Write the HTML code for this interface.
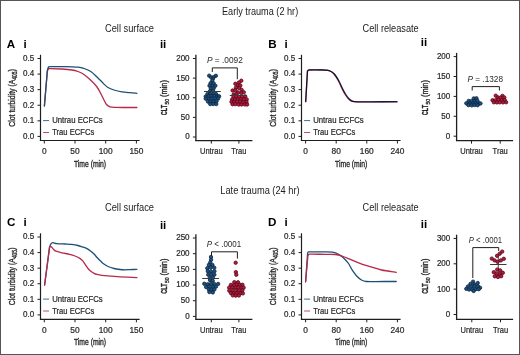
<!DOCTYPE html>
<html><head><meta charset="utf-8"><style>
html,body{margin:0;padding:0;background:#fff;width:520px;height:355px;overflow:hidden;}
svg text{font-family:"Liberation Sans", sans-serif;}
</style></head><body><div style="position:absolute;left:0;top:0;width:520px;height:355px;filter:blur(0px)">
<svg width="520" height="355" viewBox="0 0 520 355" style="position:absolute;left:0;top:0">
<rect x="0" y="0" width="520" height="355" fill="#fff"/>
<rect x="0.5" y="0.5" width="519" height="354" fill="none" stroke="#555" stroke-width="1"/>
<text x="260.10" y="15.20" font-size="10.0" text-anchor="middle" font-weight="normal" fill="#1c1c1c" textLength="76.2" lengthAdjust="spacingAndGlyphs" >Early trauma (2 hr)</text>
<text x="260.00" y="193.80" font-size="10.0" text-anchor="middle" font-weight="normal" fill="#1c1c1c" textLength="79.4" lengthAdjust="spacingAndGlyphs" >Late trauma (24 hr)</text>
<text x="129.50" y="32.40" font-size="10.0" text-anchor="middle" font-weight="normal" fill="#1c1c1c" textLength="49" lengthAdjust="spacingAndGlyphs" >Cell surface</text>
<text x="390.60" y="32.40" font-size="10.0" text-anchor="middle" font-weight="normal" fill="#1c1c1c" textLength="56.2" lengthAdjust="spacingAndGlyphs" >Cell releasate</text>
<text x="129.50" y="210.80" font-size="10.0" text-anchor="middle" font-weight="normal" fill="#1c1c1c" textLength="49" lengthAdjust="spacingAndGlyphs" >Cell surface</text>
<text x="390.60" y="210.80" font-size="10.0" text-anchor="middle" font-weight="normal" fill="#1c1c1c" textLength="56.2" lengthAdjust="spacingAndGlyphs" >Cell releasate</text>
<text x="6.80" y="47.80" font-size="11" text-anchor="start" font-weight="bold" fill="#000" textLength="8.42" lengthAdjust="spacingAndGlyphs" >A</text>
<text x="268.30" y="47.80" font-size="11" text-anchor="start" font-weight="bold" fill="#000" textLength="8.42" lengthAdjust="spacingAndGlyphs" >B</text>
<text x="6.90" y="226.00" font-size="11" text-anchor="start" font-weight="bold" fill="#000" textLength="8.42" lengthAdjust="spacingAndGlyphs" >C</text>
<text x="268.10" y="226.00" font-size="11" text-anchor="start" font-weight="bold" fill="#000" textLength="8.42" lengthAdjust="spacingAndGlyphs" >D</text>
<text x="23.50" y="47.80" font-size="11" text-anchor="start" font-weight="bold" fill="#000" textLength="3.21" lengthAdjust="spacingAndGlyphs" >i</text>
<text x="284.40" y="47.80" font-size="11" text-anchor="start" font-weight="bold" fill="#000" textLength="3.21" lengthAdjust="spacingAndGlyphs" >i</text>
<text x="23.50" y="226.00" font-size="11" text-anchor="start" font-weight="bold" fill="#000" textLength="3.21" lengthAdjust="spacingAndGlyphs" >i</text>
<text x="284.40" y="225.90" font-size="11" text-anchor="start" font-weight="bold" fill="#000" textLength="3.21" lengthAdjust="spacingAndGlyphs" >i</text>
<text x="159.90" y="47.80" font-size="11" text-anchor="start" font-weight="bold" fill="#000" textLength="6.4" lengthAdjust="spacingAndGlyphs" >ii</text>
<text x="420.80" y="45.80" font-size="11" text-anchor="start" font-weight="bold" fill="#000" textLength="6.4" lengthAdjust="spacingAndGlyphs" >ii</text>
<text x="159.90" y="228.60" font-size="11" text-anchor="start" font-weight="bold" fill="#000" textLength="6.4" lengthAdjust="spacingAndGlyphs" >ii</text>
<text x="420.80" y="227.80" font-size="11" text-anchor="start" font-weight="bold" fill="#000" textLength="6.4" lengthAdjust="spacingAndGlyphs" >ii</text>
<line x1="40.50" y1="54.80" x2="40.50" y2="141.00" stroke="#1e1e1e" stroke-width="1.2"/>
<line x1="37.50" y1="136.40" x2="40.50" y2="136.40" stroke="#1e1e1e" stroke-width="1.0"/>
<text x="34.20" y="138.80" font-size="8.2" text-anchor="end" font-weight="normal" fill="#2a2a2a" textLength="11.17" lengthAdjust="spacingAndGlyphs" stroke="#2a2a2a" stroke-width="0.22">0.0</text>
<line x1="37.50" y1="120.82" x2="40.50" y2="120.82" stroke="#1e1e1e" stroke-width="1.0"/>
<text x="34.20" y="123.22" font-size="8.2" text-anchor="end" font-weight="normal" fill="#2a2a2a" textLength="11.17" lengthAdjust="spacingAndGlyphs" stroke="#2a2a2a" stroke-width="0.22">0.1</text>
<line x1="37.50" y1="105.24" x2="40.50" y2="105.24" stroke="#1e1e1e" stroke-width="1.0"/>
<text x="34.20" y="107.64" font-size="8.2" text-anchor="end" font-weight="normal" fill="#2a2a2a" textLength="11.17" lengthAdjust="spacingAndGlyphs" stroke="#2a2a2a" stroke-width="0.22">0.2</text>
<line x1="37.50" y1="89.66" x2="40.50" y2="89.66" stroke="#1e1e1e" stroke-width="1.0"/>
<text x="34.20" y="92.06" font-size="8.2" text-anchor="end" font-weight="normal" fill="#2a2a2a" textLength="11.17" lengthAdjust="spacingAndGlyphs" stroke="#2a2a2a" stroke-width="0.22">0.3</text>
<line x1="37.50" y1="74.08" x2="40.50" y2="74.08" stroke="#1e1e1e" stroke-width="1.0"/>
<text x="34.20" y="76.48" font-size="8.2" text-anchor="end" font-weight="normal" fill="#2a2a2a" textLength="11.17" lengthAdjust="spacingAndGlyphs" stroke="#2a2a2a" stroke-width="0.22">0.4</text>
<line x1="37.50" y1="58.50" x2="40.50" y2="58.50" stroke="#1e1e1e" stroke-width="1.0"/>
<text x="34.20" y="60.90" font-size="8.2" text-anchor="end" font-weight="normal" fill="#2a2a2a" textLength="11.17" lengthAdjust="spacingAndGlyphs" stroke="#2a2a2a" stroke-width="0.22">0.5</text>
<line x1="39.90" y1="140.50" x2="139.60" y2="140.50" stroke="#1e1e1e" stroke-width="1.2"/>
<line x1="44.30" y1="140.50" x2="44.30" y2="143.50" stroke="#1e1e1e" stroke-width="1.0"/>
<text x="44.30" y="153.80" font-size="8.2" text-anchor="middle" font-weight="normal" fill="#2a2a2a" textLength="4.65" lengthAdjust="spacingAndGlyphs" stroke="#2a2a2a" stroke-width="0.22">0</text>
<line x1="75.00" y1="140.50" x2="75.00" y2="143.50" stroke="#1e1e1e" stroke-width="1.0"/>
<text x="75.00" y="153.80" font-size="8.2" text-anchor="middle" font-weight="normal" fill="#2a2a2a" textLength="9.3" lengthAdjust="spacingAndGlyphs" stroke="#2a2a2a" stroke-width="0.22">50</text>
<line x1="105.70" y1="140.50" x2="105.70" y2="143.50" stroke="#1e1e1e" stroke-width="1.0"/>
<text x="105.70" y="153.80" font-size="8.2" text-anchor="middle" font-weight="normal" fill="#2a2a2a" textLength="13.96" lengthAdjust="spacingAndGlyphs" stroke="#2a2a2a" stroke-width="0.22">100</text>
<line x1="136.40" y1="140.50" x2="136.40" y2="143.50" stroke="#1e1e1e" stroke-width="1.0"/>
<text x="136.40" y="153.80" font-size="8.2" text-anchor="middle" font-weight="normal" fill="#2a2a2a" textLength="13.96" lengthAdjust="spacingAndGlyphs" stroke="#2a2a2a" stroke-width="0.22">150</text>
<text x="90.05" y="167.00" font-size="9.0" text-anchor="middle" font-weight="normal" fill="#2a2a2a" textLength="32.2" lengthAdjust="spacingAndGlyphs" stroke="#2a2a2a" stroke-width="0.35">Time (min)</text>
<g transform="translate(15.20,97.40) rotate(-90)">
<text x="-29.30" y="0.00" font-size="9.8" font-weight="normal" fill="#2a2a2a" stroke="#2a2a2a" stroke-width="0.35" textLength="47.0" lengthAdjust="spacingAndGlyphs">Clot turbidity (A</text>
<text x="17.80" y="1.90" font-size="6.4" font-weight="normal" fill="#2a2a2a" stroke="#2a2a2a" stroke-width="0.35" textLength="8.0" lengthAdjust="spacingAndGlyphs">405</text>
<text x="25.90" y="0.00" font-size="9.8" font-weight="normal" fill="#2a2a2a" stroke="#2a2a2a" stroke-width="0.35" textLength="2.6" lengthAdjust="spacingAndGlyphs">)</text>
</g>
<line x1="43.10" y1="120.60" x2="49.10" y2="120.60" stroke="#2a5c85" stroke-width="0.9"/>
<text x="52.20" y="123.40" font-size="8.2" text-anchor="start" font-weight="normal" fill="#2a2a2a" textLength="50.5" lengthAdjust="spacingAndGlyphs" stroke="#2a2a2a" stroke-width="0.22">Untrau ECFCs</text>
<line x1="43.10" y1="132.50" x2="49.10" y2="132.50" stroke="#b8385a" stroke-width="0.9"/>
<text x="52.20" y="135.40" font-size="8.2" text-anchor="start" font-weight="normal" fill="#2a2a2a" textLength="42" lengthAdjust="spacingAndGlyphs" stroke="#2a2a2a" stroke-width="0.22">Trau ECFCs</text>
<path d="M44.40,106.00 L47.30,71.50 C47.47,71.08 47.85,69.48 48.30,69.00 C48.75,68.52 47.72,68.60 50.00,68.60 C52.28,68.60 58.33,68.77 62.00,69.00 C65.67,69.23 69.33,69.58 72.00,70.00 C74.67,70.42 76.25,70.92 78.00,71.50 C79.75,72.08 81.08,72.67 82.50,73.50 C83.92,74.33 84.92,75.17 86.50,76.50 C88.08,77.83 90.25,79.75 92.00,81.50 C93.75,83.25 95.50,84.92 97.00,87.00 C98.50,89.08 99.83,91.83 101.00,94.00 C102.17,96.17 103.08,98.25 104.00,100.00 C104.92,101.75 105.50,103.37 106.50,104.50 C107.50,105.63 108.42,106.32 110.00,106.80 C111.58,107.28 113.33,107.28 116.00,107.40 C118.67,107.52 122.52,107.48 126.00,107.50 C129.48,107.52 135.08,107.50 136.90,107.50" fill="none" stroke="#b8284a" stroke-width="1.3" stroke-linejoin="round" stroke-linecap="round"/>
<path d="M44.40,105.80 L47.40,70.20 C47.57,69.75 47.93,68.08 48.40,67.50 C48.87,66.92 47.43,66.85 50.20,66.70 C52.97,66.55 60.37,66.52 65.00,66.60 C69.63,66.68 74.83,66.88 78.00,67.20 C81.17,67.52 81.87,67.78 84.00,68.50 C86.13,69.22 88.63,70.08 90.80,71.50 C92.97,72.92 94.88,74.98 97.00,77.00 C99.12,79.02 101.67,81.85 103.50,83.60 C105.33,85.35 106.25,86.43 108.00,87.50 C109.75,88.57 111.67,89.28 114.00,90.00 C116.33,90.72 119.33,91.35 122.00,91.80 C124.67,92.25 127.52,92.45 130.00,92.70 C132.48,92.95 135.75,93.20 136.90,93.30" fill="none" stroke="#1b4f75" stroke-width="1.3" stroke-linejoin="round" stroke-linecap="round"/>
<line x1="301.50" y1="54.80" x2="301.50" y2="141.00" stroke="#1e1e1e" stroke-width="1.2"/>
<line x1="298.50" y1="136.40" x2="301.50" y2="136.40" stroke="#1e1e1e" stroke-width="1.0"/>
<text x="295.20" y="138.80" font-size="8.2" text-anchor="end" font-weight="normal" fill="#2a2a2a" textLength="11.17" lengthAdjust="spacingAndGlyphs" stroke="#2a2a2a" stroke-width="0.22">0.0</text>
<line x1="298.50" y1="120.82" x2="301.50" y2="120.82" stroke="#1e1e1e" stroke-width="1.0"/>
<text x="295.20" y="123.22" font-size="8.2" text-anchor="end" font-weight="normal" fill="#2a2a2a" textLength="11.17" lengthAdjust="spacingAndGlyphs" stroke="#2a2a2a" stroke-width="0.22">0.1</text>
<line x1="298.50" y1="105.24" x2="301.50" y2="105.24" stroke="#1e1e1e" stroke-width="1.0"/>
<text x="295.20" y="107.64" font-size="8.2" text-anchor="end" font-weight="normal" fill="#2a2a2a" textLength="11.17" lengthAdjust="spacingAndGlyphs" stroke="#2a2a2a" stroke-width="0.22">0.2</text>
<line x1="298.50" y1="89.66" x2="301.50" y2="89.66" stroke="#1e1e1e" stroke-width="1.0"/>
<text x="295.20" y="92.06" font-size="8.2" text-anchor="end" font-weight="normal" fill="#2a2a2a" textLength="11.17" lengthAdjust="spacingAndGlyphs" stroke="#2a2a2a" stroke-width="0.22">0.3</text>
<line x1="298.50" y1="74.08" x2="301.50" y2="74.08" stroke="#1e1e1e" stroke-width="1.0"/>
<text x="295.20" y="76.48" font-size="8.2" text-anchor="end" font-weight="normal" fill="#2a2a2a" textLength="11.17" lengthAdjust="spacingAndGlyphs" stroke="#2a2a2a" stroke-width="0.22">0.4</text>
<line x1="298.50" y1="58.50" x2="301.50" y2="58.50" stroke="#1e1e1e" stroke-width="1.0"/>
<text x="295.20" y="60.90" font-size="8.2" text-anchor="end" font-weight="normal" fill="#2a2a2a" textLength="11.17" lengthAdjust="spacingAndGlyphs" stroke="#2a2a2a" stroke-width="0.22">0.5</text>
<line x1="300.90" y1="140.50" x2="400.60" y2="140.50" stroke="#1e1e1e" stroke-width="1.2"/>
<line x1="305.60" y1="140.50" x2="305.60" y2="143.50" stroke="#1e1e1e" stroke-width="1.0"/>
<text x="305.60" y="153.80" font-size="8.2" text-anchor="middle" font-weight="normal" fill="#2a2a2a" textLength="4.65" lengthAdjust="spacingAndGlyphs" stroke="#2a2a2a" stroke-width="0.22">0</text>
<line x1="336.20" y1="140.50" x2="336.20" y2="143.50" stroke="#1e1e1e" stroke-width="1.0"/>
<text x="336.20" y="153.80" font-size="8.2" text-anchor="middle" font-weight="normal" fill="#2a2a2a" textLength="9.3" lengthAdjust="spacingAndGlyphs" stroke="#2a2a2a" stroke-width="0.22">80</text>
<line x1="366.80" y1="140.50" x2="366.80" y2="143.50" stroke="#1e1e1e" stroke-width="1.0"/>
<text x="366.80" y="153.80" font-size="8.2" text-anchor="middle" font-weight="normal" fill="#2a2a2a" textLength="13.96" lengthAdjust="spacingAndGlyphs" stroke="#2a2a2a" stroke-width="0.22">160</text>
<line x1="397.40" y1="140.50" x2="397.40" y2="143.50" stroke="#1e1e1e" stroke-width="1.0"/>
<text x="397.40" y="153.80" font-size="8.2" text-anchor="middle" font-weight="normal" fill="#2a2a2a" textLength="13.96" lengthAdjust="spacingAndGlyphs" stroke="#2a2a2a" stroke-width="0.22">240</text>
<text x="351.20" y="167.00" font-size="9.0" text-anchor="middle" font-weight="normal" fill="#2a2a2a" textLength="32.2" lengthAdjust="spacingAndGlyphs" stroke="#2a2a2a" stroke-width="0.35">Time (min)</text>
<g transform="translate(276.20,97.40) rotate(-90)">
<text x="-29.30" y="0.00" font-size="9.8" font-weight="normal" fill="#2a2a2a" stroke="#2a2a2a" stroke-width="0.35" textLength="47.0" lengthAdjust="spacingAndGlyphs">Clot turbidity (A</text>
<text x="17.80" y="1.90" font-size="6.4" font-weight="normal" fill="#2a2a2a" stroke="#2a2a2a" stroke-width="0.35" textLength="8.0" lengthAdjust="spacingAndGlyphs">405</text>
<text x="25.90" y="0.00" font-size="9.8" font-weight="normal" fill="#2a2a2a" stroke="#2a2a2a" stroke-width="0.35" textLength="2.6" lengthAdjust="spacingAndGlyphs">)</text>
</g>
<line x1="304.10" y1="120.60" x2="310.10" y2="120.60" stroke="#2a5c85" stroke-width="0.9"/>
<text x="313.20" y="123.40" font-size="8.2" text-anchor="start" font-weight="normal" fill="#2a2a2a" textLength="50.5" lengthAdjust="spacingAndGlyphs" stroke="#2a2a2a" stroke-width="0.22">Untrau ECFCs</text>
<line x1="304.10" y1="132.50" x2="310.10" y2="132.50" stroke="#b8385a" stroke-width="0.9"/>
<text x="313.20" y="135.40" font-size="8.2" text-anchor="start" font-weight="normal" fill="#2a2a2a" textLength="42" lengthAdjust="spacingAndGlyphs" stroke="#2a2a2a" stroke-width="0.22">Trau ECFCs</text>
<path d="M305.70,101.60 L307.50,71.40 C307.65,71.20 307.98,70.43 308.40,70.20 C308.82,69.97 308.07,70.03 310.00,70.00 C311.93,69.97 317.00,69.95 320.00,70.00 C323.00,70.05 326.00,69.97 328.00,70.30 C330.00,70.63 330.75,71.13 332.00,72.00 C333.25,72.87 334.25,73.83 335.50,75.50 C336.75,77.17 338.25,79.67 339.50,82.00 C340.75,84.33 341.83,87.25 343.00,89.50 C344.17,91.75 345.33,93.83 346.50,95.50 C347.67,97.17 348.92,98.53 350.00,99.50 C351.08,100.47 351.83,100.92 353.00,101.30 C354.17,101.68 354.17,101.72 357.00,101.80 C359.83,101.88 363.33,101.82 370.00,101.80 C376.67,101.78 392.50,101.72 397.00,101.70" fill="none" stroke="#1b4f75" stroke-width="1.3" stroke-linejoin="round" stroke-linecap="round" style="mix-blend-mode:multiply"/>
<path d="M305.70,101.60 L307.40,71.20 C307.53,71.00 307.77,70.23 308.20,70.00 C308.63,69.77 308.03,69.82 310.00,69.80 C311.97,69.78 317.17,69.83 320.00,69.90 C322.83,69.97 325.17,69.93 327.00,70.20 C328.83,70.47 329.75,70.78 331.00,71.50 C332.25,72.22 333.25,72.92 334.50,74.50 C335.75,76.08 337.25,78.67 338.50,81.00 C339.75,83.33 340.83,86.17 342.00,88.50 C343.17,90.83 344.33,93.17 345.50,95.00 C346.67,96.83 347.92,98.43 349.00,99.50 C350.08,100.57 350.67,101.00 352.00,101.40 C353.33,101.80 354.00,101.82 357.00,101.90 C360.00,101.98 363.33,101.92 370.00,101.90 C376.67,101.88 392.50,101.82 397.00,101.80" fill="none" stroke="#b8284a" stroke-width="1.3" stroke-linejoin="round" stroke-linecap="round" style="mix-blend-mode:multiply"/>
<line x1="40.50" y1="233.30" x2="40.50" y2="319.80" stroke="#1e1e1e" stroke-width="1.2"/>
<line x1="37.50" y1="314.90" x2="40.50" y2="314.90" stroke="#1e1e1e" stroke-width="1.0"/>
<text x="34.20" y="317.30" font-size="8.2" text-anchor="end" font-weight="normal" fill="#2a2a2a" textLength="11.17" lengthAdjust="spacingAndGlyphs" stroke="#2a2a2a" stroke-width="0.22">0.0</text>
<line x1="37.50" y1="299.32" x2="40.50" y2="299.32" stroke="#1e1e1e" stroke-width="1.0"/>
<text x="34.20" y="301.72" font-size="8.2" text-anchor="end" font-weight="normal" fill="#2a2a2a" textLength="11.17" lengthAdjust="spacingAndGlyphs" stroke="#2a2a2a" stroke-width="0.22">0.1</text>
<line x1="37.50" y1="283.74" x2="40.50" y2="283.74" stroke="#1e1e1e" stroke-width="1.0"/>
<text x="34.20" y="286.14" font-size="8.2" text-anchor="end" font-weight="normal" fill="#2a2a2a" textLength="11.17" lengthAdjust="spacingAndGlyphs" stroke="#2a2a2a" stroke-width="0.22">0.2</text>
<line x1="37.50" y1="268.16" x2="40.50" y2="268.16" stroke="#1e1e1e" stroke-width="1.0"/>
<text x="34.20" y="270.56" font-size="8.2" text-anchor="end" font-weight="normal" fill="#2a2a2a" textLength="11.17" lengthAdjust="spacingAndGlyphs" stroke="#2a2a2a" stroke-width="0.22">0.3</text>
<line x1="37.50" y1="252.58" x2="40.50" y2="252.58" stroke="#1e1e1e" stroke-width="1.0"/>
<text x="34.20" y="254.98" font-size="8.2" text-anchor="end" font-weight="normal" fill="#2a2a2a" textLength="11.17" lengthAdjust="spacingAndGlyphs" stroke="#2a2a2a" stroke-width="0.22">0.4</text>
<line x1="37.50" y1="237.00" x2="40.50" y2="237.00" stroke="#1e1e1e" stroke-width="1.0"/>
<text x="34.20" y="239.40" font-size="8.2" text-anchor="end" font-weight="normal" fill="#2a2a2a" textLength="11.17" lengthAdjust="spacingAndGlyphs" stroke="#2a2a2a" stroke-width="0.22">0.5</text>
<line x1="39.90" y1="319.30" x2="139.60" y2="319.30" stroke="#1e1e1e" stroke-width="1.2"/>
<line x1="44.30" y1="319.30" x2="44.30" y2="322.30" stroke="#1e1e1e" stroke-width="1.0"/>
<text x="44.30" y="332.60" font-size="8.2" text-anchor="middle" font-weight="normal" fill="#2a2a2a" textLength="4.65" lengthAdjust="spacingAndGlyphs" stroke="#2a2a2a" stroke-width="0.22">0</text>
<line x1="75.00" y1="319.30" x2="75.00" y2="322.30" stroke="#1e1e1e" stroke-width="1.0"/>
<text x="75.00" y="332.60" font-size="8.2" text-anchor="middle" font-weight="normal" fill="#2a2a2a" textLength="9.3" lengthAdjust="spacingAndGlyphs" stroke="#2a2a2a" stroke-width="0.22">50</text>
<line x1="105.70" y1="319.30" x2="105.70" y2="322.30" stroke="#1e1e1e" stroke-width="1.0"/>
<text x="105.70" y="332.60" font-size="8.2" text-anchor="middle" font-weight="normal" fill="#2a2a2a" textLength="13.96" lengthAdjust="spacingAndGlyphs" stroke="#2a2a2a" stroke-width="0.22">100</text>
<line x1="136.40" y1="319.30" x2="136.40" y2="322.30" stroke="#1e1e1e" stroke-width="1.0"/>
<text x="136.40" y="332.60" font-size="8.2" text-anchor="middle" font-weight="normal" fill="#2a2a2a" textLength="13.96" lengthAdjust="spacingAndGlyphs" stroke="#2a2a2a" stroke-width="0.22">150</text>
<text x="90.05" y="345.00" font-size="9.0" text-anchor="middle" font-weight="normal" fill="#2a2a2a" textLength="32.2" lengthAdjust="spacingAndGlyphs" stroke="#2a2a2a" stroke-width="0.35">Time (min)</text>
<g transform="translate(15.20,275.90) rotate(-90)">
<text x="-29.30" y="0.00" font-size="9.8" font-weight="normal" fill="#2a2a2a" stroke="#2a2a2a" stroke-width="0.35" textLength="47.0" lengthAdjust="spacingAndGlyphs">Clot turbidity (A</text>
<text x="17.80" y="1.90" font-size="6.4" font-weight="normal" fill="#2a2a2a" stroke="#2a2a2a" stroke-width="0.35" textLength="8.0" lengthAdjust="spacingAndGlyphs">405</text>
<text x="25.90" y="0.00" font-size="9.8" font-weight="normal" fill="#2a2a2a" stroke="#2a2a2a" stroke-width="0.35" textLength="2.6" lengthAdjust="spacingAndGlyphs">)</text>
</g>
<line x1="43.10" y1="299.10" x2="49.10" y2="299.10" stroke="#2a5c85" stroke-width="0.9"/>
<text x="52.20" y="301.90" font-size="8.2" text-anchor="start" font-weight="normal" fill="#2a2a2a" textLength="50.5" lengthAdjust="spacingAndGlyphs" stroke="#2a2a2a" stroke-width="0.22">Untrau ECFCs</text>
<line x1="43.10" y1="311.00" x2="49.10" y2="311.00" stroke="#b8385a" stroke-width="0.9"/>
<text x="52.20" y="313.90" font-size="8.2" text-anchor="start" font-weight="normal" fill="#2a2a2a" textLength="42" lengthAdjust="spacingAndGlyphs" stroke="#2a2a2a" stroke-width="0.22">Trau ECFCs</text>
<path d="M44.60,285.00 L49.50,247.20 C49.72,246.70 50.27,244.95 50.80,244.20 C51.33,243.45 51.68,242.80 52.70,242.70 C53.72,242.60 54.85,243.38 56.90,243.60 C58.95,243.82 62.53,243.87 65.00,244.00 C67.47,244.13 69.53,244.15 71.70,244.40 C73.87,244.65 76.23,245.08 78.00,245.50 C79.77,245.92 80.80,246.37 82.30,246.90 C83.80,247.43 85.58,247.98 87.00,248.70 C88.42,249.42 89.63,250.32 90.80,251.20 C91.97,252.08 92.95,252.95 94.00,254.00 C95.05,255.05 96.02,256.33 97.10,257.50 C98.18,258.67 99.43,259.95 100.50,261.00 C101.57,262.05 102.25,262.88 103.50,263.80 C104.75,264.72 106.25,265.72 108.00,266.50 C109.75,267.28 112.00,268.00 114.00,268.50 C116.00,269.00 118.23,269.28 120.00,269.50 C121.77,269.72 122.93,269.78 124.60,269.80 C126.27,269.82 127.95,269.68 130.00,269.60 C132.05,269.52 135.75,269.35 136.90,269.30" fill="none" stroke="#1b4f75" stroke-width="1.3" stroke-linejoin="round" stroke-linecap="round"/>
<path d="M44.60,285.00 L49.60,247.40 C49.73,247.22 50.03,246.33 50.40,246.30 C50.77,246.27 51.28,246.70 51.80,247.20 C52.32,247.70 52.82,248.63 53.50,249.30 C54.18,249.97 54.48,250.62 55.90,251.20 C57.32,251.78 59.72,252.28 62.00,252.80 C64.28,253.32 67.43,253.77 69.60,254.30 C71.77,254.83 73.23,255.28 75.00,256.00 C76.77,256.72 78.87,257.73 80.20,258.60 C81.53,259.47 82.12,260.15 83.00,261.20 C83.88,262.25 84.67,263.68 85.50,264.90 C86.33,266.12 87.12,267.43 88.00,268.50 C88.88,269.57 89.80,270.50 90.80,271.30 C91.80,272.10 92.95,272.78 94.00,273.30 C95.05,273.82 95.77,274.07 97.10,274.40 C98.43,274.73 100.23,275.05 102.00,275.30 C103.77,275.55 104.70,275.65 107.70,275.90 C110.70,276.15 115.13,276.52 120.00,276.80 C124.87,277.08 134.08,277.47 136.90,277.60" fill="none" stroke="#b8284a" stroke-width="1.3" stroke-linejoin="round" stroke-linecap="round"/>
<line x1="301.50" y1="233.30" x2="301.50" y2="319.80" stroke="#1e1e1e" stroke-width="1.2"/>
<line x1="298.50" y1="314.90" x2="301.50" y2="314.90" stroke="#1e1e1e" stroke-width="1.0"/>
<text x="295.20" y="317.30" font-size="8.2" text-anchor="end" font-weight="normal" fill="#2a2a2a" textLength="11.17" lengthAdjust="spacingAndGlyphs" stroke="#2a2a2a" stroke-width="0.22">0.0</text>
<line x1="298.50" y1="299.32" x2="301.50" y2="299.32" stroke="#1e1e1e" stroke-width="1.0"/>
<text x="295.20" y="301.72" font-size="8.2" text-anchor="end" font-weight="normal" fill="#2a2a2a" textLength="11.17" lengthAdjust="spacingAndGlyphs" stroke="#2a2a2a" stroke-width="0.22">0.1</text>
<line x1="298.50" y1="283.74" x2="301.50" y2="283.74" stroke="#1e1e1e" stroke-width="1.0"/>
<text x="295.20" y="286.14" font-size="8.2" text-anchor="end" font-weight="normal" fill="#2a2a2a" textLength="11.17" lengthAdjust="spacingAndGlyphs" stroke="#2a2a2a" stroke-width="0.22">0.2</text>
<line x1="298.50" y1="268.16" x2="301.50" y2="268.16" stroke="#1e1e1e" stroke-width="1.0"/>
<text x="295.20" y="270.56" font-size="8.2" text-anchor="end" font-weight="normal" fill="#2a2a2a" textLength="11.17" lengthAdjust="spacingAndGlyphs" stroke="#2a2a2a" stroke-width="0.22">0.3</text>
<line x1="298.50" y1="252.58" x2="301.50" y2="252.58" stroke="#1e1e1e" stroke-width="1.0"/>
<text x="295.20" y="254.98" font-size="8.2" text-anchor="end" font-weight="normal" fill="#2a2a2a" textLength="11.17" lengthAdjust="spacingAndGlyphs" stroke="#2a2a2a" stroke-width="0.22">0.4</text>
<line x1="298.50" y1="237.00" x2="301.50" y2="237.00" stroke="#1e1e1e" stroke-width="1.0"/>
<text x="295.20" y="239.40" font-size="8.2" text-anchor="end" font-weight="normal" fill="#2a2a2a" textLength="11.17" lengthAdjust="spacingAndGlyphs" stroke="#2a2a2a" stroke-width="0.22">0.5</text>
<line x1="300.90" y1="319.30" x2="400.60" y2="319.30" stroke="#1e1e1e" stroke-width="1.2"/>
<line x1="305.60" y1="319.30" x2="305.60" y2="322.30" stroke="#1e1e1e" stroke-width="1.0"/>
<text x="305.60" y="332.60" font-size="8.2" text-anchor="middle" font-weight="normal" fill="#2a2a2a" textLength="4.65" lengthAdjust="spacingAndGlyphs" stroke="#2a2a2a" stroke-width="0.22">0</text>
<line x1="336.20" y1="319.30" x2="336.20" y2="322.30" stroke="#1e1e1e" stroke-width="1.0"/>
<text x="336.20" y="332.60" font-size="8.2" text-anchor="middle" font-weight="normal" fill="#2a2a2a" textLength="9.3" lengthAdjust="spacingAndGlyphs" stroke="#2a2a2a" stroke-width="0.22">80</text>
<line x1="366.80" y1="319.30" x2="366.80" y2="322.30" stroke="#1e1e1e" stroke-width="1.0"/>
<text x="366.80" y="332.60" font-size="8.2" text-anchor="middle" font-weight="normal" fill="#2a2a2a" textLength="13.96" lengthAdjust="spacingAndGlyphs" stroke="#2a2a2a" stroke-width="0.22">160</text>
<line x1="397.40" y1="319.30" x2="397.40" y2="322.30" stroke="#1e1e1e" stroke-width="1.0"/>
<text x="397.40" y="332.60" font-size="8.2" text-anchor="middle" font-weight="normal" fill="#2a2a2a" textLength="13.96" lengthAdjust="spacingAndGlyphs" stroke="#2a2a2a" stroke-width="0.22">240</text>
<text x="351.20" y="345.00" font-size="9.0" text-anchor="middle" font-weight="normal" fill="#2a2a2a" textLength="32.2" lengthAdjust="spacingAndGlyphs" stroke="#2a2a2a" stroke-width="0.35">Time (min)</text>
<g transform="translate(276.20,275.90) rotate(-90)">
<text x="-29.30" y="0.00" font-size="9.8" font-weight="normal" fill="#2a2a2a" stroke="#2a2a2a" stroke-width="0.35" textLength="47.0" lengthAdjust="spacingAndGlyphs">Clot turbidity (A</text>
<text x="17.80" y="1.90" font-size="6.4" font-weight="normal" fill="#2a2a2a" stroke="#2a2a2a" stroke-width="0.35" textLength="8.0" lengthAdjust="spacingAndGlyphs">405</text>
<text x="25.90" y="0.00" font-size="9.8" font-weight="normal" fill="#2a2a2a" stroke="#2a2a2a" stroke-width="0.35" textLength="2.6" lengthAdjust="spacingAndGlyphs">)</text>
</g>
<line x1="304.10" y1="299.10" x2="310.10" y2="299.10" stroke="#2a5c85" stroke-width="0.9"/>
<text x="313.20" y="301.90" font-size="8.2" text-anchor="start" font-weight="normal" fill="#2a2a2a" textLength="50.5" lengthAdjust="spacingAndGlyphs" stroke="#2a2a2a" stroke-width="0.22">Untrau ECFCs</text>
<line x1="304.10" y1="311.00" x2="310.10" y2="311.00" stroke="#b8385a" stroke-width="0.9"/>
<text x="313.20" y="313.90" font-size="8.2" text-anchor="start" font-weight="normal" fill="#2a2a2a" textLength="42" lengthAdjust="spacingAndGlyphs" stroke="#2a2a2a" stroke-width="0.22">Trau ECFCs</text>
<path d="M305.60,281.80 L307.60,253.20 C307.75,252.98 307.77,252.13 308.50,251.90 C309.23,251.67 310.08,251.82 312.00,251.80 C313.92,251.78 317.52,251.80 320.00,251.80 C322.48,251.80 324.85,251.75 326.90,251.80 C328.95,251.85 330.87,251.92 332.30,252.10 C333.73,252.28 334.47,252.55 335.50,252.90 C336.53,253.25 337.45,253.60 338.50,254.20 C339.55,254.80 340.78,255.70 341.80,256.50 C342.82,257.30 343.48,257.83 344.60,259.00 C345.72,260.17 347.22,261.63 348.50,263.50 C349.78,265.37 350.90,268.07 352.30,270.20 C353.70,272.33 355.37,274.67 356.90,276.30 C358.43,277.93 359.95,279.13 361.50,280.00 C363.05,280.87 363.95,281.23 366.20,281.50 C368.45,281.77 371.87,281.60 375.00,281.60 C378.13,281.60 381.47,281.52 385.00,281.50 C388.53,281.48 394.33,281.50 396.20,281.50" fill="none" stroke="#1b4f75" stroke-width="1.3" stroke-linejoin="round" stroke-linecap="round"/>
<path d="M305.60,281.80 L307.90,256.00 C308.07,255.72 308.22,254.60 308.90,254.30 C309.58,254.00 309.32,254.20 312.00,254.20 C314.68,254.20 321.10,254.25 325.00,254.30 C328.90,254.35 332.38,254.13 335.40,254.50 C338.42,254.87 340.53,255.65 343.10,256.50 C345.67,257.35 347.98,258.45 350.80,259.60 C353.62,260.75 356.67,262.18 360.00,263.40 C363.33,264.62 367.22,265.80 370.80,266.90 C374.38,268.00 377.27,269.08 381.50,270.00 C385.73,270.92 393.75,272.00 396.20,272.40" fill="none" stroke="#b8284a" stroke-width="1.3" stroke-linejoin="round" stroke-linecap="round"/>
<line x1="195.90" y1="54.80" x2="195.90" y2="141.10" stroke="#1e1e1e" stroke-width="1.3"/>
<line x1="192.90" y1="137.00" x2="195.90" y2="137.00" stroke="#1e1e1e" stroke-width="1.0"/>
<text x="189.60" y="139.40" font-size="8.2" text-anchor="end" font-weight="normal" fill="#2a2a2a" textLength="4.47" lengthAdjust="spacingAndGlyphs" stroke="#2a2a2a" stroke-width="0.22">0</text>
<line x1="192.90" y1="117.38" x2="195.90" y2="117.38" stroke="#1e1e1e" stroke-width="1.0"/>
<text x="189.60" y="119.78" font-size="8.2" text-anchor="end" font-weight="normal" fill="#2a2a2a" textLength="8.94" lengthAdjust="spacingAndGlyphs" stroke="#2a2a2a" stroke-width="0.22">50</text>
<line x1="192.90" y1="97.75" x2="195.90" y2="97.75" stroke="#1e1e1e" stroke-width="1.0"/>
<text x="189.60" y="100.15" font-size="8.2" text-anchor="end" font-weight="normal" fill="#2a2a2a" textLength="13.41" lengthAdjust="spacingAndGlyphs" stroke="#2a2a2a" stroke-width="0.22">100</text>
<line x1="192.90" y1="78.12" x2="195.90" y2="78.12" stroke="#1e1e1e" stroke-width="1.0"/>
<text x="189.60" y="80.53" font-size="8.2" text-anchor="end" font-weight="normal" fill="#2a2a2a" textLength="13.41" lengthAdjust="spacingAndGlyphs" stroke="#2a2a2a" stroke-width="0.22">150</text>
<line x1="192.90" y1="58.50" x2="195.90" y2="58.50" stroke="#1e1e1e" stroke-width="1.0"/>
<text x="189.60" y="60.90" font-size="8.2" text-anchor="end" font-weight="normal" fill="#2a2a2a" textLength="13.41" lengthAdjust="spacingAndGlyphs" stroke="#2a2a2a" stroke-width="0.22">200</text>
<line x1="195.30" y1="140.60" x2="252.40" y2="140.60" stroke="#1e1e1e" stroke-width="1.2"/>
<line x1="211.30" y1="140.60" x2="211.30" y2="143.60" stroke="#1e1e1e" stroke-width="1.0"/>
<text x="211.30" y="154.10" font-size="8.6" text-anchor="middle" font-weight="normal" fill="#2a2a2a" textLength="22.59" lengthAdjust="spacingAndGlyphs" stroke="#2a2a2a" stroke-width="0.22">Untrau</text>
<line x1="238.90" y1="140.60" x2="238.90" y2="143.60" stroke="#1e1e1e" stroke-width="1.0"/>
<text x="238.90" y="154.10" font-size="8.6" text-anchor="middle" font-weight="normal" fill="#2a2a2a" textLength="15.19" lengthAdjust="spacingAndGlyphs" stroke="#2a2a2a" stroke-width="0.22">Trau</text>
<g transform="translate(167.00,97.60) rotate(-90)">
<text x="-17.60" y="0.00" font-size="9.4" font-weight="bold" fill="#2a2a2a" stroke="#2a2a2a" stroke-width="0.35" textLength="10.4" lengthAdjust="spacingAndGlyphs">CLT</text>
<text x="-7.00" y="2.10" font-size="6.0" font-weight="normal" fill="#2a2a2a" stroke="#2a2a2a" stroke-width="0.35" textLength="5.8" lengthAdjust="spacingAndGlyphs">50</text>
<text x="0.70" y="0.00" font-size="9.4" font-weight="normal" fill="#2a2a2a" stroke="#2a2a2a" stroke-width="0.35" textLength="16.8" lengthAdjust="spacingAndGlyphs">(min)</text>
</g>
<text x="206.90" y="63.00" font-size="8.3" fill="#2a2a2a" textLength="35.9" lengthAdjust="spacingAndGlyphs"><tspan font-style="italic">P</tspan> = .0092</text>
<path d="M212.30,72.00 V67.90 H237.30 V79.20" fill="none" stroke="#1e1e1e" stroke-width="1.0"/>
<circle cx="209.17" cy="75.65" r="1.7" fill="#1d5282" stroke="#0a233c" stroke-width="0.8"/>
<circle cx="215.88" cy="75.77" r="1.7" fill="#1d5282" stroke="#0a233c" stroke-width="0.8"/>
<circle cx="211.14" cy="77.35" r="1.7" fill="#1d5282" stroke="#0a233c" stroke-width="0.8"/>
<circle cx="213.72" cy="77.08" r="1.7" fill="#1d5282" stroke="#0a233c" stroke-width="0.8"/>
<circle cx="212.87" cy="78.79" r="1.7" fill="#1d5282" stroke="#0a233c" stroke-width="0.8"/>
<circle cx="212.24" cy="80.77" r="1.7" fill="#1d5282" stroke="#0a233c" stroke-width="0.8"/>
<circle cx="210.58" cy="83.15" r="1.7" fill="#1d5282" stroke="#0a233c" stroke-width="0.8"/>
<circle cx="213.63" cy="83.34" r="1.7" fill="#1d5282" stroke="#0a233c" stroke-width="0.8"/>
<circle cx="209.51" cy="85.73" r="1.7" fill="#1d5282" stroke="#0a233c" stroke-width="0.8"/>
<circle cx="212.67" cy="86.15" r="1.7" fill="#1d5282" stroke="#0a233c" stroke-width="0.8"/>
<circle cx="215.36" cy="85.70" r="1.7" fill="#1d5282" stroke="#0a233c" stroke-width="0.8"/>
<circle cx="210.78" cy="88.28" r="1.7" fill="#1d5282" stroke="#0a233c" stroke-width="0.8"/>
<circle cx="213.67" cy="88.28" r="1.7" fill="#1d5282" stroke="#0a233c" stroke-width="0.8"/>
<circle cx="209.90" cy="91.22" r="1.7" fill="#1d5282" stroke="#0a233c" stroke-width="0.8"/>
<circle cx="213.03" cy="90.83" r="1.7" fill="#1d5282" stroke="#0a233c" stroke-width="0.8"/>
<circle cx="207.49" cy="94.02" r="1.7" fill="#1d5282" stroke="#0a233c" stroke-width="0.8"/>
<circle cx="210.07" cy="94.08" r="1.7" fill="#1d5282" stroke="#0a233c" stroke-width="0.8"/>
<circle cx="213.22" cy="93.91" r="1.7" fill="#1d5282" stroke="#0a233c" stroke-width="0.8"/>
<circle cx="216.02" cy="94.06" r="1.7" fill="#1d5282" stroke="#0a233c" stroke-width="0.8"/>
<circle cx="205.71" cy="96.48" r="1.7" fill="#1d5282" stroke="#0a233c" stroke-width="0.8"/>
<circle cx="208.84" cy="96.08" r="1.7" fill="#1d5282" stroke="#0a233c" stroke-width="0.8"/>
<circle cx="211.52" cy="96.00" r="1.7" fill="#1d5282" stroke="#0a233c" stroke-width="0.8"/>
<circle cx="214.39" cy="95.94" r="1.7" fill="#1d5282" stroke="#0a233c" stroke-width="0.8"/>
<circle cx="217.48" cy="96.26" r="1.7" fill="#1d5282" stroke="#0a233c" stroke-width="0.8"/>
<circle cx="219.10" cy="96.31" r="1.7" fill="#1d5282" stroke="#0a233c" stroke-width="0.8"/>
<circle cx="205.70" cy="98.69" r="1.7" fill="#1d5282" stroke="#0a233c" stroke-width="0.8"/>
<circle cx="208.99" cy="98.79" r="1.7" fill="#1d5282" stroke="#0a233c" stroke-width="0.8"/>
<circle cx="211.69" cy="98.79" r="1.7" fill="#1d5282" stroke="#0a233c" stroke-width="0.8"/>
<circle cx="214.92" cy="98.53" r="1.7" fill="#1d5282" stroke="#0a233c" stroke-width="0.8"/>
<circle cx="218.09" cy="98.51" r="1.7" fill="#1d5282" stroke="#0a233c" stroke-width="0.8"/>
<circle cx="207.95" cy="101.61" r="1.7" fill="#1d5282" stroke="#0a233c" stroke-width="0.8"/>
<circle cx="210.51" cy="101.57" r="1.7" fill="#1d5282" stroke="#0a233c" stroke-width="0.8"/>
<circle cx="213.72" cy="101.45" r="1.7" fill="#1d5282" stroke="#0a233c" stroke-width="0.8"/>
<circle cx="216.51" cy="101.13" r="1.7" fill="#1d5282" stroke="#0a233c" stroke-width="0.8"/>
<circle cx="210.21" cy="104.07" r="1.7" fill="#1d5282" stroke="#0a233c" stroke-width="0.8"/>
<circle cx="213.22" cy="103.95" r="1.7" fill="#1d5282" stroke="#0a233c" stroke-width="0.8"/>
<circle cx="216.26" cy="104.07" r="1.7" fill="#1d5282" stroke="#0a233c" stroke-width="0.8"/>
<circle cx="241.31" cy="80.71" r="1.7" fill="#b81b3e" stroke="#4e0816" stroke-width="0.8"/>
<circle cx="238.81" cy="82.57" r="1.7" fill="#b81b3e" stroke="#4e0816" stroke-width="0.8"/>
<circle cx="235.36" cy="83.75" r="1.7" fill="#b81b3e" stroke="#4e0816" stroke-width="0.8"/>
<circle cx="237.78" cy="85.42" r="1.7" fill="#b81b3e" stroke="#4e0816" stroke-width="0.8"/>
<circle cx="240.32" cy="85.47" r="1.7" fill="#b81b3e" stroke="#4e0816" stroke-width="0.8"/>
<circle cx="235.95" cy="87.70" r="1.7" fill="#b81b3e" stroke="#4e0816" stroke-width="0.8"/>
<circle cx="239.27" cy="88.05" r="1.7" fill="#b81b3e" stroke="#4e0816" stroke-width="0.8"/>
<circle cx="241.70" cy="89.85" r="1.7" fill="#b81b3e" stroke="#4e0816" stroke-width="0.8"/>
<circle cx="232.63" cy="90.49" r="1.7" fill="#b81b3e" stroke="#4e0816" stroke-width="0.8"/>
<circle cx="235.49" cy="90.41" r="1.7" fill="#b81b3e" stroke="#4e0816" stroke-width="0.8"/>
<circle cx="237.95" cy="92.39" r="1.7" fill="#b81b3e" stroke="#4e0816" stroke-width="0.8"/>
<circle cx="241.31" cy="92.90" r="1.7" fill="#b81b3e" stroke="#4e0816" stroke-width="0.8"/>
<circle cx="243.80" cy="92.33" r="1.7" fill="#b81b3e" stroke="#4e0816" stroke-width="0.8"/>
<circle cx="233.69" cy="94.42" r="1.7" fill="#b81b3e" stroke="#4e0816" stroke-width="0.8"/>
<circle cx="236.34" cy="94.24" r="1.7" fill="#b81b3e" stroke="#4e0816" stroke-width="0.8"/>
<circle cx="233.46" cy="96.80" r="1.7" fill="#b81b3e" stroke="#4e0816" stroke-width="0.8"/>
<circle cx="236.37" cy="96.55" r="1.7" fill="#b81b3e" stroke="#4e0816" stroke-width="0.8"/>
<circle cx="239.13" cy="96.85" r="1.7" fill="#b81b3e" stroke="#4e0816" stroke-width="0.8"/>
<circle cx="242.12" cy="96.60" r="1.7" fill="#b81b3e" stroke="#4e0816" stroke-width="0.8"/>
<circle cx="245.20" cy="96.38" r="1.7" fill="#b81b3e" stroke="#4e0816" stroke-width="0.8"/>
<circle cx="232.14" cy="99.47" r="1.7" fill="#b81b3e" stroke="#4e0816" stroke-width="0.8"/>
<circle cx="235.08" cy="99.37" r="1.7" fill="#b81b3e" stroke="#4e0816" stroke-width="0.8"/>
<circle cx="237.76" cy="99.16" r="1.7" fill="#b81b3e" stroke="#4e0816" stroke-width="0.8"/>
<circle cx="240.79" cy="99.41" r="1.7" fill="#b81b3e" stroke="#4e0816" stroke-width="0.8"/>
<circle cx="243.88" cy="99.17" r="1.7" fill="#b81b3e" stroke="#4e0816" stroke-width="0.8"/>
<circle cx="246.70" cy="99.41" r="1.7" fill="#b81b3e" stroke="#4e0816" stroke-width="0.8"/>
<circle cx="231.49" cy="101.77" r="1.7" fill="#b81b3e" stroke="#4e0816" stroke-width="0.8"/>
<circle cx="234.19" cy="101.94" r="1.7" fill="#b81b3e" stroke="#4e0816" stroke-width="0.8"/>
<circle cx="237.19" cy="101.67" r="1.7" fill="#b81b3e" stroke="#4e0816" stroke-width="0.8"/>
<circle cx="240.14" cy="101.59" r="1.7" fill="#b81b3e" stroke="#4e0816" stroke-width="0.8"/>
<circle cx="243.13" cy="102.09" r="1.7" fill="#b81b3e" stroke="#4e0816" stroke-width="0.8"/>
<circle cx="246.48" cy="101.88" r="1.7" fill="#b81b3e" stroke="#4e0816" stroke-width="0.8"/>
<circle cx="232.60" cy="104.20" r="1.7" fill="#b81b3e" stroke="#4e0816" stroke-width="0.8"/>
<circle cx="235.35" cy="104.16" r="1.7" fill="#b81b3e" stroke="#4e0816" stroke-width="0.8"/>
<circle cx="238.77" cy="104.52" r="1.7" fill="#b81b3e" stroke="#4e0816" stroke-width="0.8"/>
<circle cx="241.52" cy="104.47" r="1.7" fill="#b81b3e" stroke="#4e0816" stroke-width="0.8"/>
<circle cx="244.76" cy="104.42" r="1.7" fill="#b81b3e" stroke="#4e0816" stroke-width="0.8"/>
<circle cx="247.10" cy="104.46" r="1.7" fill="#b81b3e" stroke="#4e0816" stroke-width="0.8"/>
<line x1="204.00" y1="91.50" x2="220.80" y2="91.50" stroke="#3a3a3a" stroke-width="1.0"/>
<line x1="229.80" y1="95.50" x2="246.70" y2="95.50" stroke="#3a3a3a" stroke-width="1.0"/>
<line x1="456.60" y1="52.90" x2="456.60" y2="141.10" stroke="#1e1e1e" stroke-width="1.3"/>
<line x1="453.60" y1="136.20" x2="456.60" y2="136.20" stroke="#1e1e1e" stroke-width="1.0"/>
<text x="450.30" y="138.60" font-size="8.2" text-anchor="end" font-weight="normal" fill="#2a2a2a" textLength="4.47" lengthAdjust="spacingAndGlyphs" stroke="#2a2a2a" stroke-width="0.22">0</text>
<line x1="453.60" y1="116.30" x2="456.60" y2="116.30" stroke="#1e1e1e" stroke-width="1.0"/>
<text x="450.30" y="118.70" font-size="8.2" text-anchor="end" font-weight="normal" fill="#2a2a2a" textLength="8.94" lengthAdjust="spacingAndGlyphs" stroke="#2a2a2a" stroke-width="0.22">50</text>
<line x1="453.60" y1="96.40" x2="456.60" y2="96.40" stroke="#1e1e1e" stroke-width="1.0"/>
<text x="450.30" y="98.80" font-size="8.2" text-anchor="end" font-weight="normal" fill="#2a2a2a" textLength="13.41" lengthAdjust="spacingAndGlyphs" stroke="#2a2a2a" stroke-width="0.22">100</text>
<line x1="453.60" y1="76.50" x2="456.60" y2="76.50" stroke="#1e1e1e" stroke-width="1.0"/>
<text x="450.30" y="78.90" font-size="8.2" text-anchor="end" font-weight="normal" fill="#2a2a2a" textLength="13.41" lengthAdjust="spacingAndGlyphs" stroke="#2a2a2a" stroke-width="0.22">150</text>
<line x1="453.60" y1="56.60" x2="456.60" y2="56.60" stroke="#1e1e1e" stroke-width="1.0"/>
<text x="450.30" y="59.00" font-size="8.2" text-anchor="end" font-weight="normal" fill="#2a2a2a" textLength="13.41" lengthAdjust="spacingAndGlyphs" stroke="#2a2a2a" stroke-width="0.22">200</text>
<line x1="456.00" y1="140.60" x2="513.10" y2="140.60" stroke="#1e1e1e" stroke-width="1.2"/>
<line x1="471.50" y1="140.60" x2="471.50" y2="143.60" stroke="#1e1e1e" stroke-width="1.0"/>
<text x="471.50" y="154.10" font-size="8.6" text-anchor="middle" font-weight="normal" fill="#2a2a2a" textLength="22.59" lengthAdjust="spacingAndGlyphs" stroke="#2a2a2a" stroke-width="0.22">Untrau</text>
<line x1="500.20" y1="140.60" x2="500.20" y2="143.60" stroke="#1e1e1e" stroke-width="1.0"/>
<text x="500.20" y="154.10" font-size="8.6" text-anchor="middle" font-weight="normal" fill="#2a2a2a" textLength="15.19" lengthAdjust="spacingAndGlyphs" stroke="#2a2a2a" stroke-width="0.22">Trau</text>
<g transform="translate(427.70,97.60) rotate(-90)">
<text x="-17.60" y="0.00" font-size="9.4" font-weight="bold" fill="#2a2a2a" stroke="#2a2a2a" stroke-width="0.35" textLength="10.4" lengthAdjust="spacingAndGlyphs">CLT</text>
<text x="-7.00" y="2.10" font-size="6.0" font-weight="normal" fill="#2a2a2a" stroke="#2a2a2a" stroke-width="0.35" textLength="5.8" lengthAdjust="spacingAndGlyphs">50</text>
<text x="0.70" y="0.00" font-size="9.4" font-weight="normal" fill="#2a2a2a" stroke="#2a2a2a" stroke-width="0.35" textLength="16.8" lengthAdjust="spacingAndGlyphs">(min)</text>
</g>
<text x="467.50" y="82.00" font-size="8.3" fill="#2a2a2a" textLength="35.5" lengthAdjust="spacingAndGlyphs"><tspan font-style="italic">P</tspan> = .1328</text>
<path d="M472.20,90.50 V86.60 H499.40 V90.50" fill="none" stroke="#1e1e1e" stroke-width="1.0"/>
<circle cx="473.70" cy="98.44" r="1.7" fill="#1d5282" stroke="#0a233c" stroke-width="0.8"/>
<circle cx="476.45" cy="98.29" r="1.7" fill="#1d5282" stroke="#0a233c" stroke-width="0.8"/>
<circle cx="468.69" cy="100.93" r="1.7" fill="#1d5282" stroke="#0a233c" stroke-width="0.8"/>
<circle cx="471.46" cy="101.11" r="1.7" fill="#1d5282" stroke="#0a233c" stroke-width="0.8"/>
<circle cx="474.80" cy="100.86" r="1.7" fill="#1d5282" stroke="#0a233c" stroke-width="0.8"/>
<circle cx="477.46" cy="100.83" r="1.7" fill="#1d5282" stroke="#0a233c" stroke-width="0.8"/>
<circle cx="466.33" cy="103.32" r="1.7" fill="#1d5282" stroke="#0a233c" stroke-width="0.8"/>
<circle cx="469.57" cy="103.42" r="1.7" fill="#1d5282" stroke="#0a233c" stroke-width="0.8"/>
<circle cx="472.80" cy="103.41" r="1.7" fill="#1d5282" stroke="#0a233c" stroke-width="0.8"/>
<circle cx="475.69" cy="103.30" r="1.7" fill="#1d5282" stroke="#0a233c" stroke-width="0.8"/>
<circle cx="479.07" cy="103.43" r="1.7" fill="#1d5282" stroke="#0a233c" stroke-width="0.8"/>
<circle cx="480.50" cy="103.44" r="1.7" fill="#1d5282" stroke="#0a233c" stroke-width="0.8"/>
<circle cx="468.46" cy="105.13" r="1.7" fill="#1d5282" stroke="#0a233c" stroke-width="0.8"/>
<circle cx="471.73" cy="105.32" r="1.7" fill="#1d5282" stroke="#0a233c" stroke-width="0.8"/>
<circle cx="474.61" cy="105.02" r="1.7" fill="#1d5282" stroke="#0a233c" stroke-width="0.8"/>
<circle cx="477.57" cy="105.24" r="1.7" fill="#1d5282" stroke="#0a233c" stroke-width="0.8"/>
<circle cx="495.71" cy="95.68" r="1.7" fill="#b81b3e" stroke="#4e0816" stroke-width="0.8"/>
<circle cx="502.43" cy="95.85" r="1.7" fill="#b81b3e" stroke="#4e0816" stroke-width="0.8"/>
<circle cx="497.96" cy="97.37" r="1.7" fill="#b81b3e" stroke="#4e0816" stroke-width="0.8"/>
<circle cx="500.60" cy="97.66" r="1.7" fill="#b81b3e" stroke="#4e0816" stroke-width="0.8"/>
<circle cx="504.32" cy="97.54" r="1.7" fill="#b81b3e" stroke="#4e0816" stroke-width="0.8"/>
<circle cx="492.59" cy="100.19" r="1.7" fill="#b81b3e" stroke="#4e0816" stroke-width="0.8"/>
<circle cx="495.70" cy="100.15" r="1.7" fill="#b81b3e" stroke="#4e0816" stroke-width="0.8"/>
<circle cx="498.37" cy="99.76" r="1.7" fill="#b81b3e" stroke="#4e0816" stroke-width="0.8"/>
<circle cx="501.76" cy="100.11" r="1.7" fill="#b81b3e" stroke="#4e0816" stroke-width="0.8"/>
<circle cx="504.70" cy="100.13" r="1.7" fill="#b81b3e" stroke="#4e0816" stroke-width="0.8"/>
<circle cx="493.89" cy="102.28" r="1.7" fill="#b81b3e" stroke="#4e0816" stroke-width="0.8"/>
<circle cx="496.88" cy="102.41" r="1.7" fill="#b81b3e" stroke="#4e0816" stroke-width="0.8"/>
<circle cx="499.69" cy="102.34" r="1.7" fill="#b81b3e" stroke="#4e0816" stroke-width="0.8"/>
<circle cx="502.97" cy="102.38" r="1.7" fill="#b81b3e" stroke="#4e0816" stroke-width="0.8"/>
<circle cx="506.09" cy="102.27" r="1.7" fill="#b81b3e" stroke="#4e0816" stroke-width="0.8"/>
<line x1="195.90" y1="234.32" x2="195.90" y2="319.80" stroke="#1e1e1e" stroke-width="1.3"/>
<line x1="192.90" y1="316.40" x2="195.90" y2="316.40" stroke="#1e1e1e" stroke-width="1.0"/>
<text x="189.60" y="318.80" font-size="8.2" text-anchor="end" font-weight="normal" fill="#2a2a2a" textLength="4.47" lengthAdjust="spacingAndGlyphs" stroke="#2a2a2a" stroke-width="0.22">0</text>
<line x1="192.90" y1="300.72" x2="195.90" y2="300.72" stroke="#1e1e1e" stroke-width="1.0"/>
<text x="189.60" y="303.12" font-size="8.2" text-anchor="end" font-weight="normal" fill="#2a2a2a" textLength="8.94" lengthAdjust="spacingAndGlyphs" stroke="#2a2a2a" stroke-width="0.22">50</text>
<line x1="192.90" y1="285.05" x2="195.90" y2="285.05" stroke="#1e1e1e" stroke-width="1.0"/>
<text x="189.60" y="287.45" font-size="8.2" text-anchor="end" font-weight="normal" fill="#2a2a2a" textLength="13.41" lengthAdjust="spacingAndGlyphs" stroke="#2a2a2a" stroke-width="0.22">100</text>
<line x1="192.90" y1="269.38" x2="195.90" y2="269.38" stroke="#1e1e1e" stroke-width="1.0"/>
<text x="189.60" y="271.77" font-size="8.2" text-anchor="end" font-weight="normal" fill="#2a2a2a" textLength="13.41" lengthAdjust="spacingAndGlyphs" stroke="#2a2a2a" stroke-width="0.22">150</text>
<line x1="192.90" y1="253.70" x2="195.90" y2="253.70" stroke="#1e1e1e" stroke-width="1.0"/>
<text x="189.60" y="256.10" font-size="8.2" text-anchor="end" font-weight="normal" fill="#2a2a2a" textLength="13.41" lengthAdjust="spacingAndGlyphs" stroke="#2a2a2a" stroke-width="0.22">200</text>
<line x1="192.90" y1="238.02" x2="195.90" y2="238.02" stroke="#1e1e1e" stroke-width="1.0"/>
<text x="189.60" y="240.42" font-size="8.2" text-anchor="end" font-weight="normal" fill="#2a2a2a" textLength="13.41" lengthAdjust="spacingAndGlyphs" stroke="#2a2a2a" stroke-width="0.22">250</text>
<line x1="195.30" y1="319.30" x2="252.40" y2="319.30" stroke="#1e1e1e" stroke-width="1.2"/>
<line x1="211.30" y1="319.30" x2="211.30" y2="322.30" stroke="#1e1e1e" stroke-width="1.0"/>
<text x="211.30" y="332.80" font-size="8.6" text-anchor="middle" font-weight="normal" fill="#2a2a2a" textLength="22.59" lengthAdjust="spacingAndGlyphs" stroke="#2a2a2a" stroke-width="0.22">Untrau</text>
<line x1="238.90" y1="319.30" x2="238.90" y2="322.30" stroke="#1e1e1e" stroke-width="1.0"/>
<text x="238.90" y="332.80" font-size="8.6" text-anchor="middle" font-weight="normal" fill="#2a2a2a" textLength="15.19" lengthAdjust="spacingAndGlyphs" stroke="#2a2a2a" stroke-width="0.22">Trau</text>
<g transform="translate(167.00,276.10) rotate(-90)">
<text x="-17.60" y="0.00" font-size="9.4" font-weight="bold" fill="#2a2a2a" stroke="#2a2a2a" stroke-width="0.35" textLength="10.4" lengthAdjust="spacingAndGlyphs">CLT</text>
<text x="-7.00" y="2.10" font-size="6.0" font-weight="normal" fill="#2a2a2a" stroke="#2a2a2a" stroke-width="0.35" textLength="5.8" lengthAdjust="spacingAndGlyphs">50</text>
<text x="0.70" y="0.00" font-size="9.4" font-weight="normal" fill="#2a2a2a" stroke="#2a2a2a" stroke-width="0.35" textLength="16.8" lengthAdjust="spacingAndGlyphs">(min)</text>
</g>
<text x="206.80" y="246.60" font-size="8.3" fill="#2a2a2a" textLength="34.3" lengthAdjust="spacingAndGlyphs"><tspan font-style="italic">P</tspan> &lt; .0001</text>
<path d="M211.50,256.00 V251.80 H237.40 V258.60" fill="none" stroke="#1e1e1e" stroke-width="1.0"/>
<circle cx="210.98" cy="257.02" r="1.7" fill="#1d5282" stroke="#0a233c" stroke-width="0.8"/>
<circle cx="211.08" cy="259.86" r="1.7" fill="#1d5282" stroke="#0a233c" stroke-width="0.8"/>
<circle cx="210.22" cy="262.58" r="1.7" fill="#1d5282" stroke="#0a233c" stroke-width="0.8"/>
<circle cx="208.85" cy="264.93" r="1.7" fill="#1d5282" stroke="#0a233c" stroke-width="0.8"/>
<circle cx="212.44" cy="264.94" r="1.7" fill="#1d5282" stroke="#0a233c" stroke-width="0.8"/>
<circle cx="207.33" cy="268.23" r="1.7" fill="#1d5282" stroke="#0a233c" stroke-width="0.8"/>
<circle cx="210.71" cy="267.68" r="1.7" fill="#1d5282" stroke="#0a233c" stroke-width="0.8"/>
<circle cx="214.28" cy="267.72" r="1.7" fill="#1d5282" stroke="#0a233c" stroke-width="0.8"/>
<circle cx="207.83" cy="271.19" r="1.7" fill="#1d5282" stroke="#0a233c" stroke-width="0.8"/>
<circle cx="211.06" cy="271.62" r="1.7" fill="#1d5282" stroke="#0a233c" stroke-width="0.8"/>
<circle cx="214.42" cy="271.24" r="1.7" fill="#1d5282" stroke="#0a233c" stroke-width="0.8"/>
<circle cx="208.22" cy="274.70" r="1.7" fill="#1d5282" stroke="#0a233c" stroke-width="0.8"/>
<circle cx="211.11" cy="274.35" r="1.7" fill="#1d5282" stroke="#0a233c" stroke-width="0.8"/>
<circle cx="214.37" cy="274.64" r="1.7" fill="#1d5282" stroke="#0a233c" stroke-width="0.8"/>
<circle cx="209.82" cy="277.93" r="1.7" fill="#1d5282" stroke="#0a233c" stroke-width="0.8"/>
<circle cx="212.88" cy="277.50" r="1.7" fill="#1d5282" stroke="#0a233c" stroke-width="0.8"/>
<circle cx="210.08" cy="280.25" r="1.7" fill="#1d5282" stroke="#0a233c" stroke-width="0.8"/>
<circle cx="212.73" cy="280.65" r="1.7" fill="#1d5282" stroke="#0a233c" stroke-width="0.8"/>
<circle cx="204.28" cy="283.75" r="1.7" fill="#1d5282" stroke="#0a233c" stroke-width="0.8"/>
<circle cx="207.69" cy="284.27" r="1.7" fill="#1d5282" stroke="#0a233c" stroke-width="0.8"/>
<circle cx="210.91" cy="283.95" r="1.7" fill="#1d5282" stroke="#0a233c" stroke-width="0.8"/>
<circle cx="214.21" cy="283.85" r="1.7" fill="#1d5282" stroke="#0a233c" stroke-width="0.8"/>
<circle cx="218.13" cy="283.92" r="1.7" fill="#1d5282" stroke="#0a233c" stroke-width="0.8"/>
<circle cx="206.12" cy="287.09" r="1.7" fill="#1d5282" stroke="#0a233c" stroke-width="0.8"/>
<circle cx="209.27" cy="286.63" r="1.7" fill="#1d5282" stroke="#0a233c" stroke-width="0.8"/>
<circle cx="212.94" cy="286.80" r="1.7" fill="#1d5282" stroke="#0a233c" stroke-width="0.8"/>
<circle cx="215.94" cy="286.67" r="1.7" fill="#1d5282" stroke="#0a233c" stroke-width="0.8"/>
<circle cx="208.84" cy="289.49" r="1.7" fill="#1d5282" stroke="#0a233c" stroke-width="0.8"/>
<circle cx="211.65" cy="289.48" r="1.7" fill="#1d5282" stroke="#0a233c" stroke-width="0.8"/>
<circle cx="214.34" cy="289.59" r="1.7" fill="#1d5282" stroke="#0a233c" stroke-width="0.8"/>
<circle cx="209.36" cy="292.06" r="1.7" fill="#1d5282" stroke="#0a233c" stroke-width="0.8"/>
<circle cx="212.80" cy="292.43" r="1.7" fill="#1d5282" stroke="#0a233c" stroke-width="0.8"/>
<circle cx="235.66" cy="262.72" r="1.7" fill="#b81b3e" stroke="#4e0816" stroke-width="0.8"/>
<circle cx="235.84" cy="272.10" r="1.7" fill="#b81b3e" stroke="#4e0816" stroke-width="0.8"/>
<circle cx="236.30" cy="274.72" r="1.7" fill="#b81b3e" stroke="#4e0816" stroke-width="0.8"/>
<circle cx="234.34" cy="282.16" r="1.7" fill="#b81b3e" stroke="#4e0816" stroke-width="0.8"/>
<circle cx="237.94" cy="282.26" r="1.7" fill="#b81b3e" stroke="#4e0816" stroke-width="0.8"/>
<circle cx="230.88" cy="284.88" r="1.7" fill="#b81b3e" stroke="#4e0816" stroke-width="0.8"/>
<circle cx="233.90" cy="284.97" r="1.7" fill="#b81b3e" stroke="#4e0816" stroke-width="0.8"/>
<circle cx="236.97" cy="284.63" r="1.7" fill="#b81b3e" stroke="#4e0816" stroke-width="0.8"/>
<circle cx="239.98" cy="284.76" r="1.7" fill="#b81b3e" stroke="#4e0816" stroke-width="0.8"/>
<circle cx="242.42" cy="284.79" r="1.7" fill="#b81b3e" stroke="#4e0816" stroke-width="0.8"/>
<circle cx="229.16" cy="287.62" r="1.7" fill="#b81b3e" stroke="#4e0816" stroke-width="0.8"/>
<circle cx="232.38" cy="287.50" r="1.7" fill="#b81b3e" stroke="#4e0816" stroke-width="0.8"/>
<circle cx="235.67" cy="287.66" r="1.7" fill="#b81b3e" stroke="#4e0816" stroke-width="0.8"/>
<circle cx="238.28" cy="287.43" r="1.7" fill="#b81b3e" stroke="#4e0816" stroke-width="0.8"/>
<circle cx="241.67" cy="287.89" r="1.7" fill="#b81b3e" stroke="#4e0816" stroke-width="0.8"/>
<circle cx="243.67" cy="287.63" r="1.7" fill="#b81b3e" stroke="#4e0816" stroke-width="0.8"/>
<circle cx="229.26" cy="290.59" r="1.7" fill="#b81b3e" stroke="#4e0816" stroke-width="0.8"/>
<circle cx="232.75" cy="290.45" r="1.7" fill="#b81b3e" stroke="#4e0816" stroke-width="0.8"/>
<circle cx="236.15" cy="290.49" r="1.7" fill="#b81b3e" stroke="#4e0816" stroke-width="0.8"/>
<circle cx="239.19" cy="290.69" r="1.7" fill="#b81b3e" stroke="#4e0816" stroke-width="0.8"/>
<circle cx="242.32" cy="290.32" r="1.7" fill="#b81b3e" stroke="#4e0816" stroke-width="0.8"/>
<circle cx="230.85" cy="292.99" r="1.7" fill="#b81b3e" stroke="#4e0816" stroke-width="0.8"/>
<circle cx="233.66" cy="293.43" r="1.7" fill="#b81b3e" stroke="#4e0816" stroke-width="0.8"/>
<circle cx="236.70" cy="293.44" r="1.7" fill="#b81b3e" stroke="#4e0816" stroke-width="0.8"/>
<circle cx="240.34" cy="293.15" r="1.7" fill="#b81b3e" stroke="#4e0816" stroke-width="0.8"/>
<circle cx="242.85" cy="293.40" r="1.7" fill="#b81b3e" stroke="#4e0816" stroke-width="0.8"/>
<circle cx="232.79" cy="295.35" r="1.7" fill="#b81b3e" stroke="#4e0816" stroke-width="0.8"/>
<circle cx="235.68" cy="295.63" r="1.7" fill="#b81b3e" stroke="#4e0816" stroke-width="0.8"/>
<circle cx="238.90" cy="295.48" r="1.7" fill="#b81b3e" stroke="#4e0816" stroke-width="0.8"/>
<line x1="202.20" y1="278.50" x2="219.10" y2="278.50" stroke="#3a3a3a" stroke-width="1.0"/>
<line x1="456.60" y1="234.75" x2="456.60" y2="319.80" stroke="#1e1e1e" stroke-width="1.3"/>
<line x1="453.60" y1="314.50" x2="456.60" y2="314.50" stroke="#1e1e1e" stroke-width="1.0"/>
<text x="450.30" y="316.90" font-size="8.2" text-anchor="end" font-weight="normal" fill="#2a2a2a" textLength="4.47" lengthAdjust="spacingAndGlyphs" stroke="#2a2a2a" stroke-width="0.22">0</text>
<line x1="453.60" y1="289.15" x2="456.60" y2="289.15" stroke="#1e1e1e" stroke-width="1.0"/>
<text x="450.30" y="291.55" font-size="8.2" text-anchor="end" font-weight="normal" fill="#2a2a2a" textLength="13.41" lengthAdjust="spacingAndGlyphs" stroke="#2a2a2a" stroke-width="0.22">100</text>
<line x1="453.60" y1="263.80" x2="456.60" y2="263.80" stroke="#1e1e1e" stroke-width="1.0"/>
<text x="450.30" y="266.20" font-size="8.2" text-anchor="end" font-weight="normal" fill="#2a2a2a" textLength="13.41" lengthAdjust="spacingAndGlyphs" stroke="#2a2a2a" stroke-width="0.22">200</text>
<line x1="453.60" y1="238.45" x2="456.60" y2="238.45" stroke="#1e1e1e" stroke-width="1.0"/>
<text x="450.30" y="240.85" font-size="8.2" text-anchor="end" font-weight="normal" fill="#2a2a2a" textLength="13.41" lengthAdjust="spacingAndGlyphs" stroke="#2a2a2a" stroke-width="0.22">300</text>
<line x1="456.00" y1="319.30" x2="513.10" y2="319.30" stroke="#1e1e1e" stroke-width="1.2"/>
<line x1="471.80" y1="319.30" x2="471.80" y2="322.30" stroke="#1e1e1e" stroke-width="1.0"/>
<text x="471.80" y="332.80" font-size="8.6" text-anchor="middle" font-weight="normal" fill="#2a2a2a" textLength="22.59" lengthAdjust="spacingAndGlyphs" stroke="#2a2a2a" stroke-width="0.22">Untrau</text>
<line x1="500.50" y1="319.30" x2="500.50" y2="322.30" stroke="#1e1e1e" stroke-width="1.0"/>
<text x="500.50" y="332.80" font-size="8.6" text-anchor="middle" font-weight="normal" fill="#2a2a2a" textLength="15.19" lengthAdjust="spacingAndGlyphs" stroke="#2a2a2a" stroke-width="0.22">Trau</text>
<g transform="translate(427.70,276.10) rotate(-90)">
<text x="-17.60" y="0.00" font-size="9.4" font-weight="bold" fill="#2a2a2a" stroke="#2a2a2a" stroke-width="0.35" textLength="10.4" lengthAdjust="spacingAndGlyphs">CLT</text>
<text x="-7.00" y="2.10" font-size="6.0" font-weight="normal" fill="#2a2a2a" stroke="#2a2a2a" stroke-width="0.35" textLength="5.8" lengthAdjust="spacingAndGlyphs">50</text>
<text x="0.70" y="0.00" font-size="9.4" font-weight="normal" fill="#2a2a2a" stroke="#2a2a2a" stroke-width="0.35" textLength="16.8" lengthAdjust="spacingAndGlyphs">(min)</text>
</g>
<text x="468.80" y="242.50" font-size="8.3" fill="#2a2a2a" textLength="33.3" lengthAdjust="spacingAndGlyphs"><tspan font-style="italic">P</tspan> &lt; .0001</text>
<path d="M472.80,278.00 V247.60 H498.70 V251.00" fill="none" stroke="#1e1e1e" stroke-width="1.0"/>
<line x1="498.30" y1="257.00" x2="498.30" y2="273.00" stroke="#3a3a3a" stroke-width="0.9"/>
<circle cx="473.06" cy="281.63" r="1.7" fill="#1d5282" stroke="#0a233c" stroke-width="0.8"/>
<circle cx="477.72" cy="283.03" r="1.7" fill="#1d5282" stroke="#0a233c" stroke-width="0.8"/>
<circle cx="470.49" cy="283.93" r="1.7" fill="#1d5282" stroke="#0a233c" stroke-width="0.8"/>
<circle cx="474.32" cy="284.47" r="1.7" fill="#1d5282" stroke="#0a233c" stroke-width="0.8"/>
<circle cx="468.01" cy="286.49" r="1.7" fill="#1d5282" stroke="#0a233c" stroke-width="0.8"/>
<circle cx="471.59" cy="286.60" r="1.7" fill="#1d5282" stroke="#0a233c" stroke-width="0.8"/>
<circle cx="474.68" cy="286.22" r="1.7" fill="#1d5282" stroke="#0a233c" stroke-width="0.8"/>
<circle cx="477.94" cy="286.29" r="1.7" fill="#1d5282" stroke="#0a233c" stroke-width="0.8"/>
<circle cx="480.06" cy="287.78" r="1.7" fill="#1d5282" stroke="#0a233c" stroke-width="0.8"/>
<circle cx="466.28" cy="288.85" r="1.7" fill="#1d5282" stroke="#0a233c" stroke-width="0.8"/>
<circle cx="469.12" cy="289.57" r="1.7" fill="#1d5282" stroke="#0a233c" stroke-width="0.8"/>
<circle cx="472.26" cy="289.44" r="1.7" fill="#1d5282" stroke="#0a233c" stroke-width="0.8"/>
<circle cx="475.57" cy="289.26" r="1.7" fill="#1d5282" stroke="#0a233c" stroke-width="0.8"/>
<circle cx="478.65" cy="289.22" r="1.7" fill="#1d5282" stroke="#0a233c" stroke-width="0.8"/>
<circle cx="473.64" cy="290.95" r="1.7" fill="#1d5282" stroke="#0a233c" stroke-width="0.8"/>
<circle cx="502.20" cy="251.60" r="1.7" fill="#b81b3e" stroke="#4e0816" stroke-width="0.8"/>
<circle cx="499.70" cy="253.70" r="1.7" fill="#b81b3e" stroke="#4e0816" stroke-width="0.8"/>
<circle cx="497.10" cy="255.80" r="1.7" fill="#b81b3e" stroke="#4e0816" stroke-width="0.8"/>
<circle cx="491.80" cy="258.60" r="1.7" fill="#b81b3e" stroke="#4e0816" stroke-width="0.8"/>
<circle cx="494.60" cy="260.40" r="1.7" fill="#b81b3e" stroke="#4e0816" stroke-width="0.8"/>
<circle cx="497.60" cy="261.80" r="1.7" fill="#b81b3e" stroke="#4e0816" stroke-width="0.8"/>
<circle cx="500.80" cy="260.40" r="1.7" fill="#b81b3e" stroke="#4e0816" stroke-width="0.8"/>
<circle cx="503.80" cy="258.80" r="1.7" fill="#b81b3e" stroke="#4e0816" stroke-width="0.8"/>
<circle cx="497.20" cy="269.60" r="1.7" fill="#b81b3e" stroke="#4e0816" stroke-width="0.8"/>
<circle cx="500.20" cy="270.40" r="1.7" fill="#b81b3e" stroke="#4e0816" stroke-width="0.8"/>
<circle cx="493.80" cy="272.20" r="1.7" fill="#b81b3e" stroke="#4e0816" stroke-width="0.8"/>
<circle cx="496.80" cy="273.60" r="1.7" fill="#b81b3e" stroke="#4e0816" stroke-width="0.8"/>
<circle cx="500.00" cy="274.20" r="1.7" fill="#b81b3e" stroke="#4e0816" stroke-width="0.8"/>
<circle cx="502.80" cy="272.80" r="1.7" fill="#b81b3e" stroke="#4e0816" stroke-width="0.8"/>
<circle cx="494.80" cy="276.30" r="1.7" fill="#b81b3e" stroke="#4e0816" stroke-width="0.8"/>
<circle cx="498.00" cy="277.00" r="1.7" fill="#b81b3e" stroke="#4e0816" stroke-width="0.8"/>
<circle cx="501.20" cy="276.20" r="1.7" fill="#b81b3e" stroke="#4e0816" stroke-width="0.8"/>
<line x1="490.10" y1="264.50" x2="506.50" y2="264.50" stroke="#3a3a3a" stroke-width="1.0"/>
</svg>
</div></body></html>
